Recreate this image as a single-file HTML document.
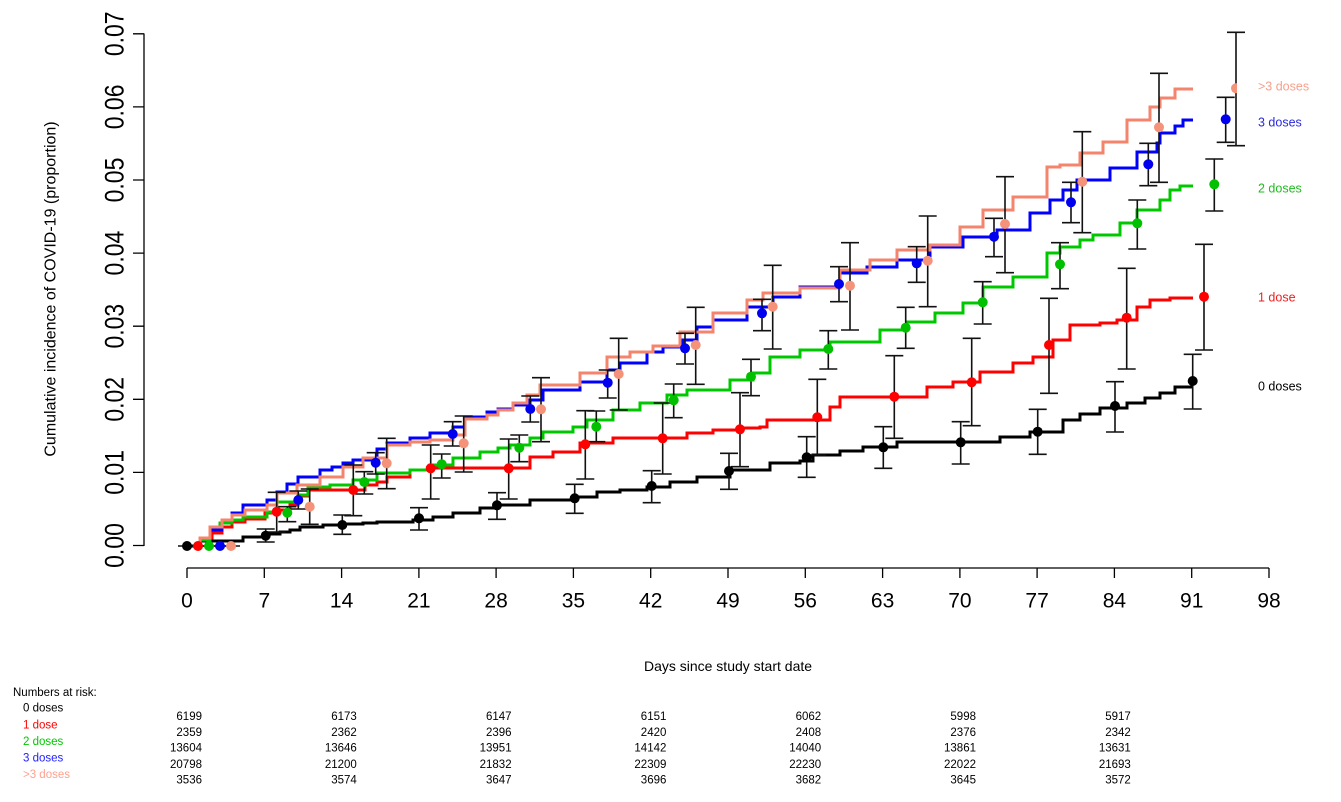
<!DOCTYPE html>
<html><head><meta charset="utf-8"><style>
html,body{margin:0;padding:0;background:#fff;}
svg{display:block;font-family:"Liberation Sans",Arial,sans-serif;}
</style></head><body>
<svg width="1341" height="802" viewBox="0 0 1341 802" xmlns="http://www.w3.org/2000/svg">
<rect width="1341" height="802" fill="#fff"/>
<!-- axes -->
<g stroke="#000" stroke-width="1.3" fill="none">
<path d="M144,546V33.5"/>
<path d="M133,545.5H144M133,472.4H144M133,399.3H144M133,326.2H144M133,253.1H144M133,180H144M133,106.9H144M133,33.8H144"/>
<path d="M187,568H1269"/>
<path d="M187,568V578M264.3,568V578M341.6,568V578M418.9,568V578M496.1,568V578M573.4,568V578M650.7,568V578M728,568V578M805.3,568V578M882.6,568V578M959.9,568V578M1037.1,568V578M1114.4,568V578M1191.7,568V578M1269,568V578"/>
</g>
<g font-size="23" fill="#000" text-anchor="middle">
<text transform="translate(114,545.5) rotate(-90) scale(1,1.15)" dy="0.35em">0.00</text>
<text transform="translate(114,472.4) rotate(-90) scale(1,1.15)" dy="0.35em">0.01</text>
<text transform="translate(114,399.3) rotate(-90) scale(1,1.15)" dy="0.35em">0.02</text>
<text transform="translate(114,326.2) rotate(-90) scale(1,1.15)" dy="0.35em">0.03</text>
<text transform="translate(114,253.1) rotate(-90) scale(1,1.15)" dy="0.35em">0.04</text>
<text transform="translate(114,180) rotate(-90) scale(1,1.15)" dy="0.35em">0.05</text>
<text transform="translate(114,106.9) rotate(-90) scale(1,1.15)" dy="0.35em">0.06</text>
<text transform="translate(114,33.8) rotate(-90) scale(1,1.15)" dy="0.35em">0.07</text>
</g>
<g font-size="21" fill="#000" text-anchor="middle">
<text x="187" y="607.5">0</text><text x="264.3" y="607.5">7</text><text x="341.6" y="607.5">14</text><text x="418.9" y="607.5">21</text><text x="496.1" y="607.5">28</text><text x="573.4" y="607.5">35</text><text x="650.7" y="607.5">42</text><text x="728" y="607.5">49</text><text x="805.3" y="607.5">56</text><text x="882.6" y="607.5">63</text><text x="959.9" y="607.5">70</text><text x="1037.1" y="607.5">77</text><text x="1114.4" y="607.5">84</text><text x="1191.7" y="607.5">91</text><text x="1269" y="607.5">98</text>
</g>
<text x="728" y="671" font-size="14" text-anchor="middle" fill="#000">Days since study start date</text>
<text transform="translate(50,289) rotate(-90)" dy="0.35em" font-size="16" text-anchor="middle" fill="#000">Cumulative incidence of COVID-19 (proportion)</text>

<!-- curves -->
<g fill="none" stroke-width="3" stroke-linejoin="miter">
<path stroke="#000" d="M187,546 H200 V541 H243 V537 H266 V534 H280 V532 H290 V530 H300 V527 H323 V525 H343 V524 H363 V523 H377 V522 H413 V520 H433 V517 H453 V513 H480 V508 H497 V505 H530 V500 H573 V497 H597 V492 H620 V490 H647 V487 H670 V482 H697 V477 H730 V470 H770 V463 H800 V461 H813 V455 H840 V451 H863 V447 H897 V442 H980 V442 H1000 V437 H1030 V432 H1063 V420 H1080 V414 H1100 V408 H1127 V403 H1145 V398 H1160 V393 H1175 V387 H1193"/>
<path stroke="#ff0000" d="M198,546 H200 V538 H212 V533 H222 V527 H232 V522 H245 V519 H265 V513 H277 V510 H290 V505 H298 V496 H308 V490 H353 V490 H365 V485 H377 V482 H387 V477 H410 V470 H430 V468 H530 V457 H553 V452 H580 V443 H613 V438 H663 V438 H687 V433 H713 V430 H740 V428 H760 V427 H767 V420 H807 V420 H830 V407 H840 V397 H893 V397 H927 V387 H953 V382 H980 V372 H1013 V363 H1033 V357 H1053 V340 H1070 V325 H1100 V323 H1117 V320 H1137 V307 H1150 V300 H1170 V298 H1193"/>
<path stroke="#00c800" d="M198,546 H200 V540 H210 V530 H220 V523 H232 V520 H243 V517 H267 V512 H277 V502 H298 V495 H308 V487 H330 V485 H353 V480 H377 V473 H410 V470 H430 V465 H453 V458 H480 V452 H498 V448 H510 V445 H530 V438 H543 V432 H573 V427 H587 V420 H613 V410 H640 V403 H667 V395 H687 V390 H730 V380 H753 V373 H770 V357 H800 V350 H830 V342 H880 V330 H907 V322 H935 V313 H963 V303 H983 V287 H1013 V277 H1047 V253 H1060 V247 H1080 V240 H1093 V235 H1120 V223 H1137 V210 H1160 V200 H1170 V190 H1180 V186 H1193"/>
<path stroke="#0000ff" d="M198,546 H200 V538 H210 V530 H222 V520 H232 V513 H243 V505 H267 V500 H277 V492 H287 V484 H298 V477 H320 V470 H332 V467 H343 V463 H353 V460 H377 V449 H387 V443 H410 V438 H430 V433 H453 V427 H465 V417 H487 V412 H498 V409 H513 V405 H530 V400 H543 V390 H580 V382 H607 V370 H620 V363 H647 V352 H663 V347 H683 V340 H697 V327 H713 V320 H747 V307 H773 V297 H800 V287 H840 V273 H867 V267 H897 V260 H930 V247 H963 V237 H997 V230 H1030 V213 H1050 V200 H1063 V190 H1077 V180 H1110 V168 H1137 V152 H1157 V143 H1160 V133 H1175 V126 H1183 V120 H1193"/>
<path stroke="#f4846c" d="M198,546 H200 V538 H210 V527 H222 V520 H232 V515 H245 V510 H267 V505 H277 V493 H297 V485 H320 V477 H343 V467 H363 V458 H387 V445 H410 V442 H430 V440 H453 V435 H465 V419 H487 V415 H498 V410 H513 V403 H527 V395 H540 V385 H580 V373 H607 V357 H630 V352 H653 V346 H680 V332 H713 V313 H747 V300 H763 V293 H800 V288 H840 V270 H870 V260 H897 V250 H930 V245 H960 V227 H983 V210 H1013 V197 H1047 V167 H1060 V165 H1080 V153 H1103 V142 H1127 V120 H1150 V107 H1160 V98 H1175 V89 H1193"/>
</g>

<!-- error bars -->
<g fill="none" stroke="#111" stroke-width="1.6">
<path d="M178,546H196 M265.7,529V542M256.7,529H274.7M256.7,542H274.7 M342.3,515V534.3M333.3,515H351.3M333.3,534.3H351.3 M419,507.7V530M410,507.7H428M410,530H428 M497,492.7V519.3M488,492.7H506M488,519.3H506 M574.7,484.3V513.3M565.7,484.3H583.7M565.7,513.3H583.7 M651.7,470.7V502.7M642.7,470.7H660.7M642.7,502.7H660.7 M729,453.3V489.3M720,453.3H738M720,489.3H738 M806.7,436.7V477.3M797.7,436.7H815.7M797.7,477.3H815.7 M883.3,426.7V468.3M874.3,426.7H892.3M874.3,468.3H892.3 M960.7,421.7V464M951.7,421.7H969.7M951.7,464H969.7 M1037.7,409.3V454.3M1028.7,409.3H1046.7M1028.7,454.3H1046.7 M1115,381.7V432M1106,381.7H1124M1106,432H1124 M1192.7,354.3V409M1183.7,354.3H1201.7M1183.7,409H1201.7"/>
<path d="M189,546H207 M276.7,492.3V532M267.7,492.3H285.7M267.7,532H285.7 M353.3,465V515.7M344.3,465H362.3M344.3,515.7H362.3 M430.7,445V499M421.7,445H439.7M421.7,499H439.7 M508.7,439V499M499.7,439H517.7M499.7,499H517.7 M585.3,410.7V479M576.3,410.7H594.3M576.3,479H594.3 M662.7,403V474M653.7,403H671.7M653.7,474H671.7 M740,392.7V466.7M731,392.7H749M731,466.7H749 M817.3,379.3V455M808.3,379.3H826.3M808.3,455H826.3 M894.3,355.7V438.3M885.3,355.7H903.3M885.3,438.3H903.3 M971.7,338.3V425.7M962.7,338.3H980.7M962.7,425.7H980.7 M1049,298.3V393.3M1040,298.3H1058M1040,393.3H1058 M1126.7,268.3V369M1117.7,268.3H1135.7M1117.7,369H1135.7 M1204,244.3V350M1195,244.3H1213M1195,350H1213"/>
<path d="M200,546H218 M287.3,506.7V521.7M278.3,506.7H296.3M278.3,521.7H296.3 M364.3,471.7V494M355.3,471.7H373.3M355.3,494H373.3 M441.7,454V478M432.7,454H450.7M432.7,478H450.7 M519.3,435V461.7M510.3,435H528.3M510.3,461.7H528.3 M596.3,411V441.7M587.3,411H605.3M587.3,441.7H605.3 M673.7,384V417.7M664.7,384H682.7M664.7,417.7H682.7 M751,359.3V395.7M742,359.3H760M742,395.7H760 M828.3,330.7V369M819.3,330.7H837.3M819.3,369H837.3 M905.7,307.3V348.3M896.7,307.3H914.7M896.7,348.3H914.7 M982.7,281.7V324M973.7,281.7H991.7M973.7,324H991.7 M1060,242.7V288.7M1051,242.7H1069M1051,288.7H1069 M1137.3,200V249M1128.3,200H1146.3M1128.3,249H1146.3 M1214.3,159V211M1205.3,159H1223.3M1205.3,211H1223.3"/>
<path d="M211,546H229 M298.3,491V509M289.3,491H307.3M289.3,509H307.3 M375.7,452.7V474M366.7,452.7H384.7M366.7,474H384.7 M452.7,421.7V446M443.7,421.7H461.7M443.7,446H461.7 M530.3,396V422M521.3,396H539.3M521.3,422H539.3 M607.7,370V398M598.7,370H616.7M598.7,398H616.7 M685,333.3V364M676,333.3H694M676,364H694 M762,299.3V330.7M753,299.3H771M753,330.7H771 M839,266.7V301.7M830,266.7H848M830,301.7H848 M916.7,246.7V282.3M907.7,246.7H925.7M907.7,282.3H925.7 M994,218.3V256.7M985,218.3H1003M985,256.7H1003 M1071,182.3V222.7M1062,182.3H1080M1062,222.7H1080 M1148.3,143.3V185.7M1139.3,143.3H1157.3M1139.3,185.7H1157.3 M1225.7,97.3V142.3M1216.7,97.3H1234.7M1216.7,142.3H1234.7"/>
<path d="M222,546H240 M309.7,489V524.3M300.7,489H318.7M300.7,524.3H318.7 M386.7,438.3V488.7M377.7,438.3H395.7M377.7,488.7H395.7 M463.7,416V472M454.7,416H472.7M454.7,472H472.7 M541,377.7V441.7M532,377.7H550M532,441.7H550 M618.7,338.3V410M609.7,338.3H627.7M609.7,410H627.7 M695.7,307.3V384.3M686.7,307.3H704.7M686.7,384.3H704.7 M772.7,265.3V349M763.7,265.3H781.7M763.7,349H781.7 M850,242.7V330M841,242.7H859M841,330H859 M927.7,216V306.7M918.7,216H936.7M918.7,306.7H936.7 M1005,176.7V272.7M996,176.7H1014M996,272.7H1014 M1082.3,131.7V232.7M1073.3,131.7H1091.3M1073.3,232.7H1091.3 M1159,73.3V182.3M1150,73.3H1168M1150,182.3H1168 M1236,32.3V145.7M1227,32.3H1245M1227,145.7H1245"/>
</g>

<!-- points -->
<g fill="#000">
<circle cx="187" cy="546" r="5"/><circle cx="265.7" cy="535.7" r="5"/><circle cx="342.3" cy="525" r="5"/><circle cx="419" cy="518.3" r="5"/><circle cx="497" cy="505.3" r="5"/><circle cx="574.7" cy="498.3" r="5"/><circle cx="651.7" cy="486" r="5"/><circle cx="729" cy="471" r="5"/><circle cx="806.7" cy="457.3" r="5"/><circle cx="883.3" cy="447.3" r="5"/><circle cx="960.7" cy="442.3" r="5"/><circle cx="1037.7" cy="431.7" r="5"/><circle cx="1115" cy="406" r="5"/><circle cx="1192.7" cy="381" r="5"/>
</g>
<g fill="#ff0000">
<circle cx="198" cy="546" r="5"/><circle cx="276.7" cy="511.7" r="5"/><circle cx="353.3" cy="490" r="5"/><circle cx="430.7" cy="468.3" r="5"/><circle cx="508.7" cy="468.3" r="5"/><circle cx="585.3" cy="444.3" r="5"/><circle cx="662.7" cy="438.3" r="5"/><circle cx="740" cy="429.3" r="5"/><circle cx="817.3" cy="417.3" r="5"/><circle cx="894.3" cy="396.7" r="5"/><circle cx="971.7" cy="382.3" r="5"/><circle cx="1049" cy="345" r="5"/><circle cx="1126.7" cy="317.7" r="5"/><circle cx="1204" cy="296.7" r="5"/>
</g>
<g fill="#00c000">
<circle cx="209" cy="546" r="5"/><circle cx="287.3" cy="512.7" r="5"/><circle cx="364.3" cy="482" r="5"/><circle cx="441.7" cy="464.3" r="5"/><circle cx="519.3" cy="447.7" r="5"/><circle cx="596.3" cy="426.7" r="5"/><circle cx="673.7" cy="400.3" r="5"/><circle cx="751" cy="376.7" r="5"/><circle cx="828.3" cy="349" r="5"/><circle cx="905.7" cy="327.7" r="5"/><circle cx="982.7" cy="302.3" r="5"/><circle cx="1060" cy="264.3" r="5"/><circle cx="1137.3" cy="223.3" r="5"/><circle cx="1214.3" cy="184.3" r="5"/>
</g>
<g fill="#0000ee">
<circle cx="220" cy="546" r="5"/><circle cx="298.3" cy="500" r="5"/><circle cx="375.7" cy="462.7" r="5"/><circle cx="452.7" cy="434" r="5"/><circle cx="530.3" cy="409" r="5"/><circle cx="607.7" cy="382.7" r="5"/><circle cx="685" cy="348.3" r="5"/><circle cx="762" cy="313.3" r="5"/><circle cx="839" cy="284" r="5"/><circle cx="916.7" cy="263.3" r="5"/><circle cx="994" cy="236.7" r="5"/><circle cx="1071" cy="202.3" r="5"/><circle cx="1148.3" cy="164.3" r="5"/><circle cx="1225.7" cy="119.3" r="5"/>
</g>
<g fill="#f4937a">
<circle cx="231" cy="546" r="5"/><circle cx="309.7" cy="506.7" r="5"/><circle cx="386.7" cy="463.3" r="5"/><circle cx="463.7" cy="443.3" r="5"/><circle cx="541" cy="409.3" r="5"/><circle cx="618.7" cy="374" r="5"/><circle cx="695.7" cy="345" r="5"/><circle cx="772.7" cy="306.7" r="5"/><circle cx="850" cy="285.7" r="5"/><circle cx="927.7" cy="260.7" r="5"/><circle cx="1005" cy="224" r="5"/><circle cx="1082.3" cy="181.7" r="5"/><circle cx="1159" cy="127.3" r="5"/><circle cx="1236" cy="88.3" r="5"/>
</g>

<!-- right labels with white boxes -->
<g fill="#fff">
<rect x="1237" y="69" width="100" height="34"/>
<rect x="1237" y="105" width="100" height="34"/>
<rect x="1237" y="171" width="100" height="34"/>
<rect x="1237" y="280" width="100" height="34"/>
<rect x="1237" y="369" width="100" height="34"/>
</g>
<g font-size="12.5">
<text x="1258" y="90.5" fill="#f7a08c">&gt;3 doses</text>
<text x="1258" y="126.5" fill="#2a2ae0">3 doses</text>
<text x="1258" y="192.5" fill="#22bb22">2 doses</text>
<text x="1258" y="301.5" fill="#ee2020">1 dose</text>
<text x="1258" y="390.5" fill="#000">0 doses</text>
</g>

<!-- numbers at risk -->
<g font-size="11.5" fill="#000">
<text x="13" y="696">Numbers at risk:</text>
<text x="23" y="711.5">0 doses</text>
<text x="23" y="728.3" fill="#ff0000">1 dose</text>
<text x="23" y="745" fill="#00c800">2 doses</text>
<text x="23" y="761.5" fill="#2020ff">3 doses</text>
<text x="23" y="778" fill="#ffa090">&gt;3 doses</text>
</g>
<g font-size="11.5" fill="#000" text-anchor="end">
<text x="202" y="720">6199</text><text x="356.8" y="720">6173</text><text x="511.6" y="720">6147</text><text x="666.4" y="720">6151</text><text x="821.2" y="720">6062</text><text x="976" y="720">5998</text><text x="1130.8" y="720">5917</text>
<text x="202" y="736">2359</text><text x="356.8" y="736">2362</text><text x="511.6" y="736">2396</text><text x="666.4" y="736">2420</text><text x="821.2" y="736">2408</text><text x="976" y="736">2376</text><text x="1130.8" y="736">2342</text>
<text x="202" y="751.7">13604</text><text x="356.8" y="751.7">13646</text><text x="511.6" y="751.7">13951</text><text x="666.4" y="751.7">14142</text><text x="821.2" y="751.7">14040</text><text x="976" y="751.7">13861</text><text x="1130.8" y="751.7">13631</text>
<text x="202" y="768">20798</text><text x="356.8" y="768">21200</text><text x="511.6" y="768">21832</text><text x="666.4" y="768">22309</text><text x="821.2" y="768">22230</text><text x="976" y="768">22022</text><text x="1130.8" y="768">21693</text>
<text x="202" y="783.3">3536</text><text x="356.8" y="783.3">3574</text><text x="511.6" y="783.3">3647</text><text x="666.4" y="783.3">3696</text><text x="821.2" y="783.3">3682</text><text x="976" y="783.3">3645</text><text x="1130.8" y="783.3">3572</text>
</g>
</svg>
</body></html>
